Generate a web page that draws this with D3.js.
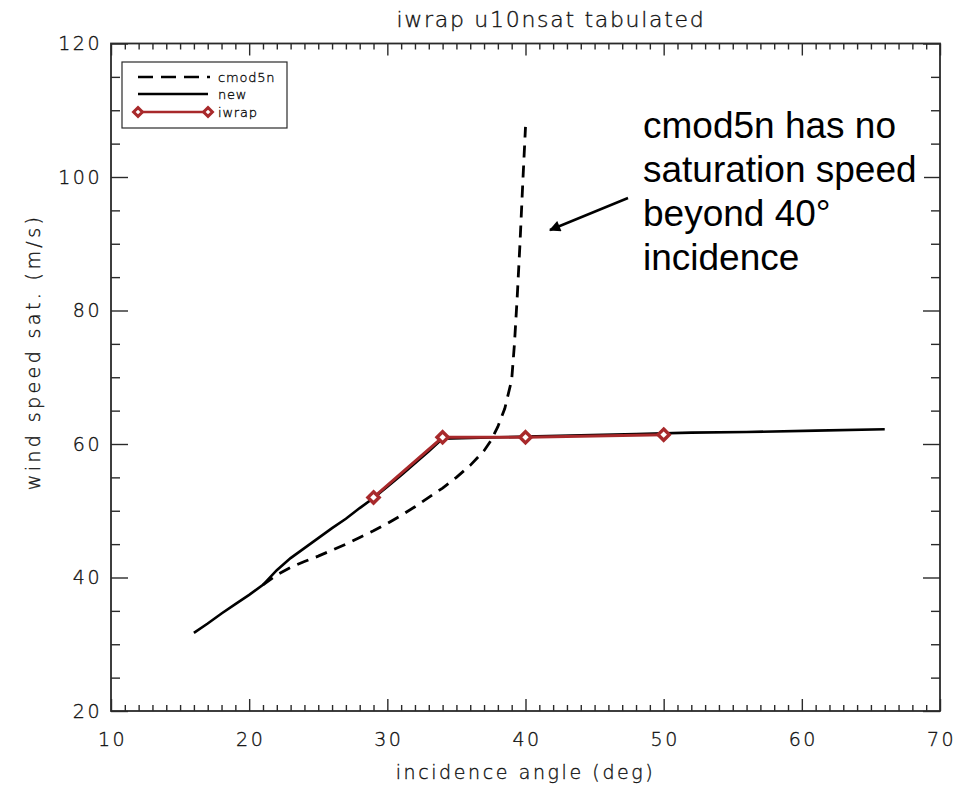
<!DOCTYPE html>
<html>
<head>
<meta charset="utf-8">
<script src="https://cdn.jsdelivr.net/npm/d3@7"></script>
<style>
  html, body { margin: 0; padding: 0; background: #fff; }
  svg { display: block; }
  .idl { font-family: "DejaVu Sans", sans-serif; font-weight: 200; fill: #111; stroke: #111; stroke-width: 0.35px; }
  .note { font-family: "Liberation Sans", Arial, sans-serif; fill: #000; }
</style>
</head>
<body>
<svg id="chart" width="971" height="785"></svg>
<script>
// incidence angle (deg) and saturation wind speed (m/s) for each model
const cmod5nAngle = [21, 22, 23, 24, 25, 26, 27, 28, 29, 30, 31, 32, 33, 34, 35, 36, 37, 37.5, 38, 38.5, 39, 39.2, 39.4, 39.6, 39.8, 40];
const cmod5nSpeed = [38.9, 40.4, 41.5, 42.4, 43.2, 44.1, 45.0, 46.0, 47.0, 48.1, 49.3, 50.6, 52.0, 53.4, 55.0, 56.8, 59.0, 60.5, 62.6, 65.3, 69.6, 75.0, 82.0, 90.0, 99.0, 107.5];

const newAngle = [16, 17, 18, 19, 20, 21, 22, 23, 24, 25, 26, 27, 28, 29, 30, 31, 32, 33, 34, 40, 44, 48, 52, 56, 61, 66];
const newSpeed = [31.7, 33.1, 34.6, 36.0, 37.4, 38.9, 41.1, 42.9, 44.4, 45.9, 47.4, 48.8, 50.4, 51.9, 53.6, 55.3, 57.1, 58.9, 60.8, 61.1, 61.3, 61.5, 61.7, 61.8, 62.0, 62.2];

const iwrapAngle = [29, 34, 40, 50];
const iwrapSpeed = [52.0, 61.0, 61.0, 61.4];

const xTickLabels = ["10", "20", "30", "40", "50", "60", "70"];
const yTickLabels = ["20", "40", "60", "80", "100", "120"];

const legendNames = ["cmod5n", "new", "iwrap"];
const noteLines = ["cmod5n has no", "saturation speed", "beyond 40°", "incidence"];

const svg = d3.select("#chart");
const plotLeft = 111, plotRight = 940, plotTop = 43.5, plotBottom = 711;

const x = d3.scaleLinear().domain([10, 70]).range([plotLeft, plotRight]);
const y = d3.scaleLinear().domain([20, 120]).range([plotBottom, plotTop]);

const axisColor = "#2a2a2a";
const red = "#a8292b";

// frame with inward ticks on all four sides
function styleAxis(g) {
  g.select(".domain").remove();
  g.selectAll("line").attr("stroke", axisColor).attr("stroke-width", 1.4);
  g.selectAll("text").attr("class", "idl").attr("font-size", 19)
    .style("letter-spacing", "2.5px");
}
const xMajor = xTickLabels.map(Number);
const xMinor = d3.range(10, 71, 1).filter(v => v % 10 !== 0);
const yMajor = yTickLabels.map(Number);
const yMinor = d3.range(20, 121, 5).filter(v => v % 20 !== 0);

svg.append("g").attr("transform", `translate(0,${plotBottom})`)
  .call(d3.axisBottom(x).tickValues(xMinor).tickSize(-6).tickFormat(""))
  .call(styleAxis);
const xAxisG = svg.append("g").attr("transform", `translate(0,${plotBottom})`)
  .call(d3.axisBottom(x).tickValues(xMajor).tickSize(-12).tickFormat((d, i) => xTickLabels[i]))
  .call(styleAxis);
xAxisG.selectAll("text").attr("y", 22).attr("dy", "0.71em").attr("dx", "1px");

svg.append("g").attr("transform", `translate(0,${plotTop})`)
  .call(d3.axisTop(x).tickValues(xMinor).tickSize(-6).tickFormat(""))
  .call(styleAxis);
svg.append("g").attr("transform", `translate(0,${plotTop})`)
  .call(d3.axisTop(x).tickValues(xMajor).tickSize(-12).tickFormat(""))
  .call(styleAxis);

svg.append("g").attr("transform", `translate(${plotLeft},0)`)
  .call(d3.axisLeft(y).tickValues(yMinor).tickSize(-9).tickFormat(""))
  .call(styleAxis);
const yAxisG = svg.append("g").attr("transform", `translate(${plotLeft},0)`)
  .call(d3.axisLeft(y).tickValues(yMajor).tickSize(-17).tickFormat((d, i) => yTickLabels[i]))
  .call(styleAxis);
yAxisG.selectAll("text").attr("x", -9);

svg.append("g").attr("transform", `translate(${plotRight},0)`)
  .call(d3.axisRight(y).tickValues(yMinor).tickSize(-9).tickFormat(""))
  .call(styleAxis);
svg.append("g").attr("transform", `translate(${plotRight},0)`)
  .call(d3.axisRight(y).tickValues(yMajor).tickSize(-17).tickFormat(""))
  .call(styleAxis);

svg.append("rect")
  .attr("x", plotLeft).attr("y", plotTop)
  .attr("width", plotRight - plotLeft).attr("height", plotBottom - plotTop)
  .attr("fill", "none").attr("stroke", axisColor).attr("stroke-width", 1.8);

// titles
svg.append("text").attr("class", "idl")
  .attr("x", 551).attr("y", 27).attr("text-anchor", "middle")
  .attr("font-size", 22).style("letter-spacing", "1.7px").text("iwrap u10nsat tabulated");
svg.append("text").attr("class", "idl")
  .attr("x", (plotLeft + plotRight) / 2).attr("y", 779).attr("text-anchor", "middle")
  .attr("font-size", 19).style("letter-spacing", "2.6px").text("incidence angle (deg)");
svg.append("text").attr("class", "idl")
  .attr("transform", `translate(40,352) rotate(-90)`)
  .attr("text-anchor", "middle")
  .attr("font-size", 19).style("letter-spacing", "3.4px").text("wind speed sat. (m/s)");

// curves
const line = d3.line().x(d => x(d[0])).y(d => y(d[1]));
const cmod5n = d3.zip(cmod5nAngle, cmod5nSpeed);
const newer = d3.zip(newAngle, newSpeed);
const iwrap = d3.zip(iwrapAngle, iwrapSpeed);

svg.append("path").datum(newer).attr("d", line)
  .attr("fill", "none").attr("stroke", "#000").attr("stroke-width", 2.6);
svg.append("path").datum(cmod5n).attr("d", line)
  .attr("fill", "none").attr("stroke", "#000").attr("stroke-width", 2.8)
  .attr("stroke-dasharray", "12,8");
svg.append("path").datum(iwrap).attr("d", line)
  .attr("fill", "none").attr("stroke", red).attr("stroke-width", 3);

const diamond = d3.symbol().type(d3.symbolDiamond2).size(80);
svg.append("g").selectAll("path").data(iwrap).join("path")
  .attr("transform", d => `translate(${x(d[0])},${y(d[1])})`)
  .attr("d", diamond)
  .attr("fill", "#fff").attr("stroke", red).attr("stroke-width", 3.4);

// legend
const lg = svg.append("g");
lg.append("rect").attr("x", 122).attr("y", 62).attr("width", 165).attr("height", 66)
  .attr("fill", "#fff").attr("stroke", axisColor).attr("stroke-width", 1.2);
const rowY = [77, 94, 112];
const lx0 = 138, lx1 = 208;
lg.append("line").attr("x1", lx0).attr("x2", lx1 + 2).attr("y1", rowY[0]).attr("y2", rowY[0])
  .attr("stroke", "#000").attr("stroke-width", 2.6).attr("stroke-dasharray", "15,8");
lg.append("line").attr("x1", lx0).attr("x2", lx1).attr("y1", rowY[1]).attr("y2", rowY[1])
  .attr("stroke", "#000").attr("stroke-width", 2.4);
lg.append("line").attr("x1", lx0).attr("x2", lx1).attr("y1", rowY[2]).attr("y2", rowY[2])
  .attr("stroke", red).attr("stroke-width", 2.6);
lg.selectAll("path.mk").data([lx0, lx1]).join("path").attr("class", "mk")
  .attr("transform", d => `translate(${d},${rowY[2]})`)
  .attr("d", d3.symbol().type(d3.symbolDiamond2).size(50))
  .attr("fill", "#fff").attr("stroke", red).attr("stroke-width", 3);
lg.selectAll("text").data(legendNames).join("text").attr("class", "idl")
  .attr("x", 218).attr("y", (d, i) => rowY[i] + 5)
  .attr("font-size", 13).style("letter-spacing", "0.8px").text(d => d);

// annotation with arrow
svg.append("defs").append("marker")
  .attr("id", "head").attr("viewBox", "0 0 10 10")
  .attr("refX", 9).attr("refY", 5)
  .attr("markerWidth", 5.5).attr("markerHeight", 4.5)
  .attr("markerUnits", "strokeWidth").attr("orient", "auto")
  .append("path").attr("d", "M0,0 L10,5 L0,10 Z").attr("fill", "#000");
svg.append("line")
  .attr("x1", 628).attr("y1", 198).attr("x2", 550).attr("y2", 230)
  .attr("stroke", "#000").attr("stroke-width", 2.5)
  .attr("marker-end", "url(#head)");
svg.append("rect").attr("x", 638).attr("y", 108).attr("width", 286).attr("height", 172).attr("fill", "#fff");
svg.append("g").selectAll("text").data(noteLines).join("text").attr("class", "note")
  .attr("x", 643).attr("y", (d, i) => 138 + i * 44)
  .attr("font-size", 37).text(d => d);
</script>
</body>
</html>
